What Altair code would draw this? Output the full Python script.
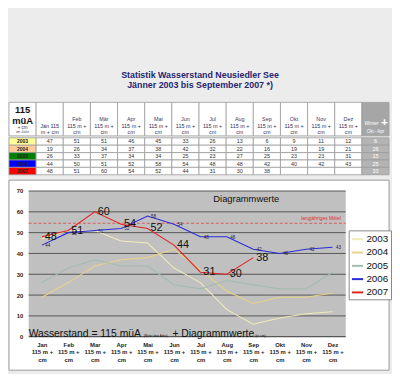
import altair as alt
import pandas as pd

# ---------------- data ----------------
months = ["Jan", "Feb", "Mar", "Apr", "Mai", "Jun", "Jul", "Aug", "Sep", "Okt", "Nov", "Dez"]
table_months = ["Jän", "Feb", "Mär", "Apr", "Mai", "Jun", "Jul", "Aug", "Sep", "Okt", "Nov", "Dez"]
years = ["2003", "2004", "2005", "2006", "2007"]
v2003 = [47, 51, 51, 46, 45, 33, 26, 13, 6, 9, 11, 12]
v2004 = [19, 26, 34, 37, 38, 42, 32, 22, 16, 19, 19, 21]
v2005 = [26, 33, 37, 34, 34, 25, 23, 27, 25, 23, 23, 31]
v2006 = [44, 50, 51, 52, 58, 54, 48, 48, 42, 40, 42, 43]
v2007 = [48, 51, 60, 54, 52, 44, 31, 30, 38]
winter = [6, 26, 15, 25, 33]
mean_level = [54.5]
grid_levels = [10, 20, 30, 40, 50, 60, 70]
base_level = [0]
y_ticks = [0, 10, 20, 30, 40, 50, 60, 70]

title_line1 = "Statistik Wasserstand Neusiedler See"
title_line2 = "Jänner 2003 bis September 2007 *)"

# ---------------- styles ----------------
FONT = "Liberation Sans"
table_year_colors = ["#ffff99", "#ffcc99", "#008000", "#0000ff", "#ff0000"]
line_colors = ["#f1ebb8", "#e6d28a", "#a3bcae", "#2b2bd8", "#e42222"]
line_widths = [1.1, 1.1, 1.1, 1.6, 2.4]

series = [v2003, v2004, v2005, v2006, v2007]

rows = []
for y, vals in zip(years, series):
    for i, v in enumerate(vals):
        rows.append({"month": months[i], "year": y, "value": v})
line_df = pd.DataFrame(rows)

cols = ["lbl"] + table_months + ["W"]
hdr_rows = [{"col": "lbl", "kind": "lbl", "l1": "", "l2": "", "l3": ""}]
for m in table_months:
    if m == "Jän":
        hdr_rows.append({"col": m, "kind": "m", "l1": "", "l2": "Jän    115", "l3": "m + cm"})
    else:
        hdr_rows.append({"col": m, "kind": "m", "l1": m, "l2": "115 m +", "l3": "cm"})
hdr_rows.append({"col": "W", "kind": "w", "l1": "", "l2": "", "l3": ""})
hdr_df = pd.DataFrame(hdr_rows)

body_rows = []
for yi, (y, vals) in enumerate(zip(years, series)):
    body_rows.append({"col": "lbl", "row": y, "kind": y, "txt": y})
    for i, m in enumerate(table_months):
        body_rows.append({"col": m, "row": y, "kind": "m", "txt": str(vals[i]) if i < len(vals) else ""})
    body_rows.append({"col": "W", "row": y, "kind": "wb", "txt": str(winter[yi])})
body_df = pd.DataFrame(body_rows)

fill_domain = years + ["lbl", "m", "w", "wb"]
fill_range = table_year_colors + ["#ffffff", "#ffffff", "#a6a6a6", "#b4b4b4"]
fill_enc = alt.Fill("kind:N", scale=alt.Scale(domain=fill_domain, range=fill_range), legend=None)

TW = 386
HH = 34
xcol = alt.X("col:N", sort=cols, scale=alt.Scale(domain=cols, paddingInner=0, paddingOuter=0), axis=None)
one = pd.DataFrame({"a": [0]})

# ---------------- table header (with page title) ----------------
hb = alt.Chart(hdr_df).encode(x=xcol)
h_rect = hb.mark_rect(stroke="#9c9c9c", strokeWidth=0.8).encode(fill=fill_enc, y=alt.value(0), y2=alt.value(HH))
hm = hb.transform_filter("datum.kind == 'm'")
h_l1 = hm.mark_text(fontSize=5.5, color="#3a3a66").encode(text="l1:N", y=alt.value(17))
h_l2 = hm.mark_text(fontSize=5.5, color="#2e2e5a").encode(text="l2:N", y=alt.value(24))
h_l3 = hm.mark_text(fontSize=5.5, color="#2e2e5a").encode(text="l3:N", y=alt.value(30))
tl = hb.transform_filter("datum.kind == 'lbl'")
t115 = tl.mark_text(text="115", fontSize=9.5, fontWeight="bold", color="#111").encode(y=alt.value(8))
tmua = tl.mark_text(text="müA", fontSize=9.5, fontWeight="bold", color="#111").encode(y=alt.value(18.5))
tcm = tl.mark_text(text="+ cm", fontSize=4.5, color="#333").encode(y=alt.value(26))
tjahr = tl.mark_text(text="im Jahr", fontSize=4, color="#444").encode(y=alt.value(29.7))
wl = hb.transform_filter("datum.kind == 'w'")
twin = wl.mark_text(text="Winter", fontSize=5, color="white", dx=-4).encode(y=alt.value(21))
tplus = wl.mark_text(text="+", fontSize=12, fontWeight="bold", color="white", dx=9).encode(y=alt.value(20))
tokt = wl.mark_text(text="Okt - Apr", fontSize=4.5, color="white").encode(y=alt.value(30))
ttl1 = alt.Chart(one).mark_text(text=title_line1, fontSize=9, fontWeight="bold", color="#262673").encode(
    x=alt.value(194), y=alt.value(-28))
ttl2 = alt.Chart(one).mark_text(text=title_line2, fontSize=9, fontWeight="bold", color="#262673").encode(
    x=alt.value(194), y=alt.value(-17.5))

header = alt.layer(h_rect, h_l1, h_l2, h_l3, t115, tmua, tcm, tjahr, twin, tplus, tokt, ttl1, ttl2).properties(
    width=TW, height=HH)

# ---------------- table body ----------------
bb = alt.Chart(body_df).encode(
    x=xcol,
    y=alt.Y("row:N", sort=years, scale=alt.Scale(domain=years, paddingInner=0, paddingOuter=0), axis=None),
)
b_rect = bb.mark_rect(stroke="#9c9c9c", strokeWidth=0.8).encode(fill=fill_enc)
b_txt = bb.transform_filter("datum.kind == 'm'").mark_text(fontSize=5.5, color="#333").encode(text="txt:N")
b_year = bb.transform_filter("datum.col == 'lbl'").mark_text(fontSize=5, fontWeight="bold", color="#222").encode(text="txt:N")
b_wtxt = bb.transform_filter("datum.kind == 'wb'").mark_text(fontSize=5.5, color="white").encode(text="txt:N")
body = alt.layer(b_rect, b_txt, b_year, b_wtxt).properties(width=TW, height=37.5)

# ---------------- line chart (panel spans the white box; plot area inside) ----------------
H = 148
PX0, PX1 = 20, 342     # grey plot area inside the white panel
xm = alt.X("month:N", sort=months,
           scale=alt.Scale(domain=months, type="point", padding=0.5, range=[PX0, PX1]),
           axis=alt.Axis(title=None, labelExpr="[datum.label, '115 m +', 'cm']", labelAngle=0,
                         labelFontSize=6, labelFontWeight="bold", labelColor="#222", labelLineHeight=7.5,
                         labelPadding=5, ticks=False, grid=False, domain=False, zindex=1))
yv = alt.Y("value:Q", scale=alt.Scale(domain=[0, 70], nice=False),
           axis=alt.Axis(title=None, values=y_ticks, labelFontSize=6, labelFontWeight="bold", offset=-PX0,
                         labelColor="#222", grid=False, ticks=False, domain=False, labelPadding=6, zindex=1))

box = alt.Chart(one).mark_rect(fill="white", stroke="#9a9a9a", strokeWidth=1).encode(
    x=alt.value(0), x2=alt.value(TW), y=alt.value(-11), y2=alt.value(H + 34))
plotbg = alt.Chart(one).mark_rect(fill="#c0c0c0").encode(
    x=alt.value(PX0), x2=alt.value(PX1), y=alt.value(0), y2=alt.value(H))
grid = alt.Chart(pd.DataFrame({"value": grid_levels})).mark_rule(color="#555", strokeWidth=1).encode(
    y=yv, x=alt.value(PX0), x2=alt.value(PX1))
base = alt.Chart(pd.DataFrame({"value": base_level})).mark_rule(color="#333", strokeWidth=1).encode(
    y=yv, x=alt.value(PX0), x2=alt.value(PX1))
mean_rule = alt.Chart(pd.DataFrame({"value": mean_level})).mark_rule(
    color="#e04040", strokeWidth=0.8, strokeDash=[3, 2]).encode(y=yv, x=alt.value(PX0), x2=alt.value(PX1))
mean_txt = alt.Chart(pd.DataFrame({"value": mean_level})).mark_text(
    text="langjähriges Mittel", fontSize=5, color="#e03030", align="right", dy=-5).encode(
    y=yv, x=alt.value(337))

lines = alt.Chart(line_df).mark_line().encode(
    x=xm, y=yv,
    color=alt.Color("year:N", scale=alt.Scale(domain=years, range=line_colors),
                    legend=alt.Legend(title=None, orient="none", legendX=345, legendY=40, offset=0,
                                      symbolType="stroke", symbolSize=130, symbolStrokeWidth=2,
                                      labelFontSize=10, labelColor="#111", labelFont=FONT,
                                      fillColor="white", strokeColor="#888", padding=2,
                                      rowPadding=1.5, labelOffset=2)),
    strokeWidth=alt.StrokeWidth("year:N", scale=alt.Scale(domain=years, range=line_widths), legend=None),
)
lab07 = alt.Chart(line_df).transform_filter("datum.year == '2007'").mark_text(
    align="left", baseline="middle", dx=3, fontSize=11, color="#111").encode(x=xm, y=yv, text="value:Q")
lab06 = alt.Chart(line_df).transform_filter("datum.year == '2006'").mark_text(
    baseline="middle", dx=6, dy=1, fontSize=4.5, color="#20204a").encode(x=xm, y=yv, text="value:Q")

diag = alt.Chart(one).mark_text(text="Diagrammwerte", fontSize=9.5, color="#111").encode(
    x=alt.value(241), y=alt.value(8))
ws1 = alt.Chart(one).mark_text(text="Wasserstand = 115 müA", fontSize=10.5, color="#111",
                               align="left", baseline="middle").encode(x=alt.value(PX0), y=alt.value(H - 3))
ws2 = alt.Chart(one).mark_text(text="(Meter über Adria)", fontSize=3, color="#111",
                               align="left", baseline="middle").encode(x=alt.value(137), y=alt.value(H - 1))
ws3 = alt.Chart(one).mark_text(text="+ Diagrammwerte", fontSize=10.5, color="#111",
                               align="left", baseline="middle").encode(x=alt.value(166), y=alt.value(H - 3))
ws4 = alt.Chart(one).mark_text(text="(in cm)", fontSize=3.5, color="#111",
                               align="left", baseline="middle").encode(x=alt.value(250), y=alt.value(H - 1))

chart_panel = alt.layer(box, plotbg, grid, base, mean_rule, mean_txt, lines, lab06, lab07,
                        diag, ws1, ws2, ws3, ws4).properties(width=TW, height=H)

table = alt.vconcat(header, body, spacing=0)
chart = alt.vconcat(table, chart_panel, spacing=4).resolve_scale(
    color="independent", fill="independent").resolve_legend(color="independent").properties(
    padding={"left": 0, "top": 61, "right": 0, "bottom": 0}
).configure(font=FONT, background="#ececec").configure_view(strokeWidth=0)

chart.save("out.html", embed_options={"renderer": "svg", "actions": False})
